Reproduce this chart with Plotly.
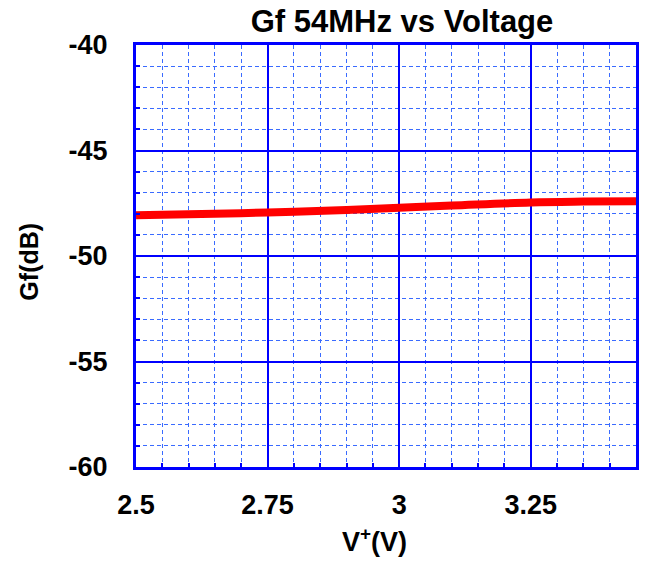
import plotly.graph_objects as go

voltage = [2.5, 2.6, 2.75, 2.9, 3.0, 3.1, 3.25, 3.35, 3.45]
gf_db = [-48.07, -48.02, -47.94, -47.82, -47.71, -47.61, -47.46, -47.42, -47.40]

x_ticks = [2.5, 2.75, 3.0, 3.25]
x_tick_labels = ["2.5", "2.75", "3", "3.25"]
y_ticks = [-60, -55, -50, -45, -40]
y_tick_labels = ["-60", "-55", "-50", "-45", "-40"]

FONT = "Liberation Sans, Arial, sans-serif"
BLUE = "#0000FF"
MINOR = "#3A6BFF"

L, R, T, B = 136, 8, 45, 94
W, H = 647, 561
plot_w = W - L - R
plot_h = H - T - B

fig = go.Figure()
fig.add_trace(go.Scatter(
    x=voltage, y=gf_db, mode="lines",
    line=dict(color="#FF0000", width=8, shape="spline"),
    showlegend=False, hoverinfo="skip",
))

axis_common = dict(
    showline=True, linecolor=BLUE, linewidth=3, mirror=True,
    showgrid=True, gridcolor=BLUE, gridwidth=1.5,
    ticks="inside", tickcolor=BLUE, ticklen=6, tickwidth=2,
    tickfont=dict(family=FONT, size=27, color="black", weight="bold"),
    zeroline=False,
)

minor_common = dict(showgrid=True, gridcolor=MINOR, gridwidth=1.3,
                    griddash="4px,3px", ticks="inside", ticklen=4,
                    tickwidth=2, tickcolor=BLUE)

fig.update_layout(
    width=W, height=H,
    margin=dict(l=L, r=R, t=T, b=B),
    paper_bgcolor="white", plot_bgcolor="white",
    title=dict(
        text="<b>Gf 54MHz vs Voltage</b>",
        font=dict(family=FONT, size=31, color="black"),
        x=402 / W, xanchor="center", xref="container",
        y=1 - 21 / H, yanchor="middle", yref="container",
    ),
    xaxis=dict(
        range=[2.5, 3.45], tickvals=x_ticks, ticktext=x_tick_labels,
        ticklabelstandoff=12,
        minor=dict(dtick=0.05, tick0=2.5, **minor_common),
        **axis_common,
    ),
    yaxis=dict(
        range=[-60, -40], tickvals=y_ticks, ticktext=y_tick_labels,
        ticklabelstandoff=20,
        minor=dict(dtick=1, tick0=-60, **minor_common),
        **axis_common,
    ),
)

fig.add_annotation(
    text="<b>V<sup>+</sup>(V)</b>", xref="paper", yref="paper",
    x=(376 - L) / plot_w, y=-(540 - (H - B)) / plot_h,
    showarrow=False, xanchor="center", yanchor="middle",
    font=dict(family=FONT, size=27, color="black"),
)
fig.add_annotation(
    text="<b>Gf(dB)</b>", xref="paper", yref="paper",
    x=-(L - 28) / plot_w, y=((H - B) - 262) / plot_h, textangle=-90,
    showarrow=False, xanchor="center", yanchor="middle",
    font=dict(family=FONT, size=25, color="black"),
)

fig.write_html("out.html")
